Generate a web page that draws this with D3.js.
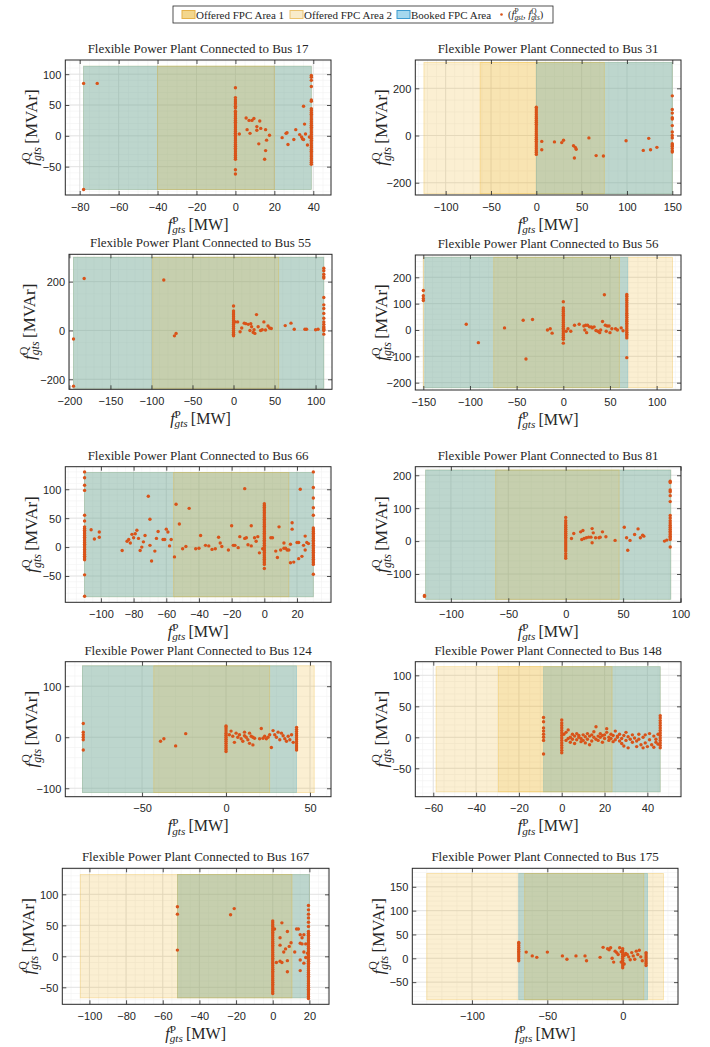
<!DOCTYPE html>
<html>
<head>
<meta charset="utf-8">
<script src="https://cdn.jsdelivr.net/npm/d3@7"></script>
<style>
  body { margin: 0; background: #fff; }
  svg { display: block; font-family: "Liberation Serif", "Times New Roman", serif; }
  .tick text { font-family: "Liberation Sans", Arial, sans-serif; font-size: 11px; fill: #262626; }
</style>
</head>
<body>
<svg id="chart" width="710" height="1047"></svg>
<script>
// ---------------- data
var buses = [17, 31, 55, 56, 66, 81, 124, 148, 167, 175];

var xLimits = [[-87.4, 49.1], [-133.5, 159.6], [-200.5, 120], [-158.6, 126.1], [-121.8, 40.8],
               [-131, 100.4], [-95.7, 62.5], [-68.4, 55.7], [-114.8, 30.7], [-139.6, 36.7]];
var yLimits = [[-96, 123], [-252, 320], [-241, 312], [-227.8, 284.7], [-95.5, 139],
               [-186, 226], [-116.5, 148], [-95.8, 122], [-77.4, 142], [-96.5, 188.8]];

var xTicks = [[-80, -60, -40, -20, 0, 20, 40], [-100, -50, 0, 50, 100, 150], [-200, -150, -100, -50, 0, 50, 100],
              [-150, -100, -50, 0, 50, 100], [-100, -80, -60, -40, -20, 0, 20], [-100, -50, 0, 50, 100],
              [-50, 0, 50], [-60, -40, -20, 0, 20, 40], [-100, -80, -60, -40, -20, 0, 20], [-100, -50, 0]];
var yTicks = [[-50, 0, 50, 100], [-200, 0, 200], [-200, 0, 200], [-200, -100, 0, 100, 200], [-50, 0, 50, 100],
              [-100, 0, 100, 200], [-100, 0, 100], [-50, 0, 50, 100], [-50, 0, 50, 100], [-50, 0, 50, 100, 150]];

// areas: [pMin, pMax, qMin, qMax]
var bookedArea = [[-78, 39, -87, 113], [0, 150, -247, 310], [-195, 110, -237, 300], [-148.5, 69, -219, 276],
                  [-110, 30, -86, 129], [-122, 91.5, -177, 216], [-85.5, 42, -108.5, 140], [-8.5, 46, -88, 114],
                  [-52, 20, -67, 132], [-69, 16.5, -87, 178]];
var offeredArea1 = [[-40, 20, -87, 113], [-62, 75, -247, 310], [-98.5, 55, -237, 300], [-74.5, 60, -219, 276],
                    [-55.5, 15, -86, 129], [-61, 46.5, -177, 216], [-43, 26, -108.5, 140], [-29.5, 23.5, -88, 114],
                    [-52, 10.5, -67, 132], [-65, 14, -87, 178]];
var offeredArea2 = [[-78, 39, -87, 113], [-124, 150, -247, 310], [-195, 110, -237, 300], [-150, 117, -219, 276],
                    [-110, 30, -86, 129], [-122, 91.5, -177, 216], [-85.5, 52.5, -108.5, 140], [-58.7, 46, -88, 114],
                    [-105, 20, -67, 132], [-130, 27, -87, 178]];

// columns of points that pile up at one active power value: [p, [q...]]
var bus17Cols = [
  [0, [-62, -55, -38, -35, -32, -29, -26, -23, -20, -17, -14, -11, -8, -5, -2, 1, 4, 7, 10, 13, 16, 19, 22, 25, 28, 31, 34, 37, 40, 45, 48, 52, 55, 58, 62, 78]],
  [39, [-46, -43, -40, -37, -34, -31, -28, -25, -22, -19, -16, -13, -10, -7, -4, -1, 2, 5, 8, 11, 14, 17, 20, 23, 26, 29, 32, 35, 38, 41, 44, 56, 58, 80, 90, 95, 98]]];
var bus31Cols = [
  [0, [-80, -72, -64, -56, -48, -40, -32, -24, -16, -8, 0, 8, 16, 24, 32, 40, 48, 56, 64, 72, 80, 88, 96, 104, 112, 120]],
  [150, [168, 110, 95, 75, 70, 42, 15, 0, -10, -35, -40, -45, -55, -65, -70]]];
var bus55Cols = [
  [0, [-22, -15, -8, 0, 8, 16, 24, 32, 40, 48, 56, 64, 72, 80, 100]],
  [110, [255, 245, 230, 220, 215, 135, 105, 90, 70, 50, 35, 25, 15, 10, 5, 0, -15]]];
var bus56Cols = [
  [-150, [150, 130, 120, 112]],
  [0, [-50, -35, -28, -21, -14, -7, 0, 7, 14, 21, 28, 35, 42, 49, 56, 63, 70, 77, 84, 107]],
  [68, [135, 128, 120, 112, 104, 96, 88, 80, 72, 64, 56, 48, 40, 33, 26, 19, 12, 5, -2, -9, -16, -23, -30, -105]]];
var bus66Cols = [
  [-110, [-85, -48, -22, -19, -16, -13, -10, -7, -4, -1, 2, 5, 8, 11, 14, 17, 20, 23, 26, 29, 32, 35, 45, 55, 98, 107, 120, 130]],
  [0, [-37, -30, -27, -24, -21, -18, -15, -12, -9, -6, -3, 0, 3, 6, 9, 12, 15, 18, 21, 24, 27, 30, 33, 36, 39, 42, 45, 48, 51, 54, 57, 60, 63, 66, 69, 72, 75]],
  [30, [-47, -30, -27, -24, -21, -18, -15, -12, -9, -6, -3, 0, 3, 6, 9, 12, 15, 18, 21, 24, 27, 30, 33, 55, 68, 85, 103, 130]]];
var bus81Cols = [
  [0, [-52, -45, -38, -30, -24, -18, -12, -6, 0, 6, 12, 18, 24, 30, 36, 42, 48, 55, 62, 72]],
  [91, [182, 178, 155, 150, 138, 120, 78, 70, 62, 55, 48, 42, 36, 30, 25, 20, 15, 10, 5, -18]]];
var bus124Cols = [
  [-85, [27, 10, 5, 0, -5, -25]],
  [0, [-28, -24, -20, -16, -12, -8, -4, 0, 4, 8, 12, 16, 20, 22]],
  [42, [-25, -21, -17, -13, -9, -5, -1, 3, 7, 11, 15, 19]]];
var bus148Cols = [
  [-8.5, [32, 25, 15, 10, 5, 0, -5, -27]],
  [0, [-25, -21, -17, -13, -9, -5, -1, 3, 7, 11, 15, 19, 23, 28]],
  [46, [-17, -13, -9, -5, -1, 3, 7, 11, 15, 19, 23, 27, 31, 35]]];
var bus167Cols = [
  [-52, [80, 68, 10]],
  [0, [-60, -57, -54, -51, -48, -45, -42, -39, -36, -33, -30, -27, -24, -21, -18, -15, -12, -9, -6, -3, 0, 3, 6, 9, 12, 15, 18, 21, 24, 27, 30, 33, 36, 39, 42, 45, 48, 51, 54, 57]],
  [19.5, [-68, -65, -62, -59, -56, -53, -50, -47, -44, -41, -38, -35, -32, -29, -26, -23, -20, -17, -14, -11, -8, -5, -2, 1, 4, 7, 10, 13, 16, 19, 22, 25, 28, 31, 34, 37, 40, 48, 55, 62, 68, 75, 82]]];
var bus175Cols = [
  [-69, [-5, -1, 3, 7, 11, 15, 19, 23, 27, 31, 33]],
  [0, [-20, -16, -12, -8, -4, 0, 4, 8, 12, 16, 20]],
  [15.5, [-15, -11, -7, -3, 1, 5, 9, 12]]];

// remaining single points [p, q]
var bus17Pts = [[-78, 85], [-71, 85], [-78, -87], [2, 3], [5.5, 29], [6, 10], [7, 25], [7.5, 4], [8.5, 25], [9.5, 28],
  [11, 15], [11, 9], [12, -13], [12.5, 24], [13, 12], [15, -38], [15.5, 10], [15.5, -24], [16, -7], [17.5, 1],
  [24, -3], [26, 4], [26.5, 5], [27, -14], [30, -6], [31, 10], [33, 2], [34, -2], [34.5, -5], [35, -6], [35, 48],
  [35.5, 19], [36, 3], [37, -15], [38, -2]];
var bus31Pts = [[6, -25], [6, -60], [20, -27], [28, -30], [30, -20], [41, -43], [42, -95], [43, -50], [44, -58],
  [58, -10], [66, -85], [74, -87], [99, -22], [118, -63], [124, -12], [126, -60], [133, -50]];
var bus55Pts = [[-195, -35], [-195, -228], [-182, 213], [-85, 207], [-72, -22], [-70, -12], [2, 35], [5, 35], [8, -5],
  [10, 10], [13, 30], [15, 28], [18, 25], [20, 0], [21, 28], [22, 15], [24, -8], [25, 3], [26, -12], [28, 65], [30, 15],
  [33, 0], [35, 3], [37, 35], [39, 2], [42, 18], [44, 10], [46, 8], [63, 20], [70, 30], [74, 5], [87, 5], [89, 5],
  [100, 3], [103, 5]];
var bus56Pts = [[-104, 22], [-91, -48], [-63, 8], [-43, 37], [-40, -110], [-33, 40], [-17, 0], [-14, 5], [-12, -12],
  [3, -5], [5, 5], [8, -5], [12, 18], [17, 22], [22, 15], [23, 0], [24, 18], [25, -10], [26, 18], [28, 12], [30, 12],
  [31, 8], [33, 12], [35, -2], [37, -5], [39, -10], [40, 0], [42, 32], [44, 134], [45, 18], [46, -5], [47, 15],
  [49, 15], [50, -10], [52, 5], [56, 5], [58, 0], [62, 8], [64, -3]];
var bus66Pts = [[-106, 30], [-104, 14], [-101, 26], [-101, 17], [-87, -6], [-84, 10], [-83, 13], [-82, 7], [-81, 22],
  [-80, 16], [-79, 23], [-78, 29], [-77, 15], [-76, -6], [-75, 0], [-74, 9], [-73, 20], [-71, 88], [-70, 48],
  [-70, 3], [-69, -24], [-67, -7], [-66, 15], [-65, 27], [-62, 13], [-61, 13], [-60, 31], [-59, 26], [-58, 2],
  [-57, 13], [-55, -17], [-54, 74], [-52, 40], [-50, -3], [-48, 1], [-46, 67], [-42, -3], [-40, -2], [-39, 20],
  [-36, 3], [-34, 2], [-32, -4], [-30, -3], [-28, 17], [-27, 7], [-26, 1], [-22, -5], [-20, 37], [-19, 3], [-18, 3],
  [-16, -1], [-15, 18], [-12, 101], [-12, 15], [-11, 16], [-10, 4], [-8, 37], [-8, 2], [-6, 16], [-5, 10], [-4, 18],
  [-3, -10], [-1, -3], [4, 16], [5, 16], [7, -7], [8, -18], [9, 35], [10, -5], [12, -2], [12, 7], [13, -2], [14, -5],
  [15, -5], [16, 5], [16, -27], [17, 42], [17, 31], [18, -26], [20, 8], [21, 8], [21, -20], [22, 100], [23, -16],
  [24, 3], [25, -5], [25, 19], [26, 8], [27, 6]];
var bus81Pts = [[-123, -165], [-123, -168], [5, 8], [7, 23], [13, 28], [14, 5], [15, 32], [16, 8], [18, 10], [20, 12],
  [22, 12], [23, 38], [23, -5], [24, 25], [26, 10], [29, 10], [30, 12], [32, 28], [35, 13], [43, 2], [51, 42],
  [53, 10], [54, -28], [56, 2], [60, 20], [63, 37], [65, 10], [67, 18], [68, 15], [86, 0], [88, 3]];
var bus124Pts = [[-39, -8], [-37, -3], [-30, -17], [-24, 7], [2, 5], [3, 12], [4, 2], [5, -10], [6, 8], [7, 0], [8, 5],
  [9, -3], [10, -8], [11, 10], [11, 3], [12, 0], [13, -5], [14, 8], [14, -12], [15, 2], [16, 0], [16, -15], [17, -2],
  [20, -3], [21, 17], [22, -2], [23, 2], [24, -3], [25, 0], [26, 5], [27, -20], [28, 13], [29, 5], [30, 0], [31, 10],
  [32, -5], [33, 8], [34, 3], [35, -3], [36, -8], [37, 2], [38, -5], [39, 5], [40, -10]];
var bus148Pts = [[1, 5], [2, -5], [2, 8], [3, -2], [3, 12], [4, 0], [4, -8], [5, 5], [5, -3], [6, 2], [6, -10], [7, -4],
  [7, 6], [8, 0], [8, 3], [9, -2], [9, -7], [10, 4], [10, -5], [11, 1], [11, -9], [12, 6], [12, -3], [13, -12], [13, 2],
  [14, 4], [14, -6], [15, 0], [15, 9], [16, -3], [16, 17], [17, 2], [17, -5], [18, 6], [18, 0], [19, -8], [19, 3],
  [20, 4], [20, -2], [21, 8], [21, 14], [22, 0], [22, -5], [23, 5], [23, -2], [24, 3], [24, -7], [25, 10], [25, -4],
  [26, 0], [26, 2], [27, -6], [27, 5], [28, -10], [28, -2], [29, 3], [29, -14], [30, 8], [30, -5], [31, -17], [31, 1],
  [32, -3], [33, 4], [33, -8], [34, -1], [35, -6], [35, -15], [36, 5], [36, -3], [37, -12], [38, 0], [38, -17],
  [39, 4], [39, -9], [40, -15], [41, 6], [41, -4], [42, -12], [43, -16], [43, 2], [44, -8], [44, -3], [45, 5], [45, -11]];
var bus167Pts = [[-23, 67], [-21, 77], [1, 44], [2, -10], [4, 30], [4, 18], [4, -8], [5, 54], [5, -10], [6, 7], [7, 12],
  [8, 40], [8, -25], [8, -7], [9, 16], [10, 22], [12, 7], [13, 44], [14, 44], [15, 35], [15, 21], [15, -6], [15, -23],
  [16, 20], [16, 30], [17, 35], [17, 7], [17, -11], [18, -2], [18, 20], [19, 5]];
var bus175Pts = [[-64, 13], [-60, 5], [-57, 2], [-50, 13], [-40, 5], [-37, -2], [-31, 5], [-25, 5], [-24, -5], [-15, 2],
  [-13, 23], [-10, 20], [-9, 18], [-8, 22], [-7, 0], [-6, -8], [-5, 15], [-4, 12], [-3, 8], [-2, 22], [-1, -8],
  [-1, 14], [1, -12], [1, 6], [2, 10], [3, 8], [4, 3], [5, -3], [6, 12], [7, 5], [8, -2], [9, 15], [10, 8], [11, 17],
  [12, 3], [13, -5]];

var colSets = [bus17Cols, bus31Cols, bus55Cols, bus56Cols, bus66Cols, bus81Cols, bus124Cols, bus148Cols, bus167Cols, bus175Cols];
var ptSets = [bus17Pts, bus31Pts, bus55Pts, bus56Pts, bus66Pts, bus81Pts, bus124Pts, bus148Pts, bus167Pts, bus175Pts];

// ---------------- layout (pixel boxes of the axes: left, top, right, bottom)
var boxes = [[65.3, 60, 331, 195], [415.3, 60, 681, 195], [69, 254.3, 332, 389.3], [415.3, 255, 681, 390],
             [65.3, 466.7, 331, 602.3], [415.3, 466.7, 681, 602.3], [65.3, 661.7, 331, 796.7], [415.3, 661.7, 681, 796.7],
             [62.3, 868.3, 329, 1004.3], [412.3, 868.3, 678, 1004.3]];

var orange = "#EDB120", blueFill = "rgb(74,169,197)", dotColor = "#D95319";

var svg = d3.select("#chart");

// f^{sup}_{sub} [unit] written with tspans
function mathLabel(text, sup, sub, unit, fs, supShift) {
  var up = fs * (supShift || 0.42), down = fs * 0.22;
  text.append("tspan").attr("font-style", "italic").text("f");
  var s = text.append("tspan").attr("font-size", fs * 0.7).attr("dy", -up).text(sup);
  var w = s.node().getComputedTextLength();
  text.append("tspan").attr("font-size", fs * 0.7).attr("font-style", "italic")
    .attr("dx", -w).attr("dy", up + down).text(sub);
  if (unit) text.append("tspan").attr("dy", -down).text("\u2009" + unit);
}

function minorStep(step) {
  if (step === 20) return 5;
  if (step === 50) return 10;
  if (step === 100) return 20;
  if (step === 200) return 50;
  return step / 5;
}

buses.forEach(function(bus, i) {
  var b = boxes[i];
  var w = b[2] - b[0], h = b[3] - b[1];
  var g = svg.append("g").attr("transform", "translate(" + b[0] + "," + b[1] + ")");

  var x = d3.scaleLinear().domain(xLimits[i]).range([0, w]);
  var y = d3.scaleLinear().domain(yLimits[i]).range([h, 0]);

  // minor grid
  var mx = minorStep(xTicks[i][1] - xTicks[i][0]);
  var my = minorStep(yTicks[i][1] - yTicks[i][0]);
  var minX = d3.range(Math.ceil(xLimits[i][0] / mx) * mx, xLimits[i][1], mx);
  var minY = d3.range(Math.ceil(yLimits[i][0] / my) * my, yLimits[i][1], my);
  g.selectAll(".mgx").data(minX).enter().append("line")
    .attr("x1", d => x(d)).attr("x2", d => x(d)).attr("y1", 0).attr("y2", h)
    .attr("stroke", "#f1f1f1").attr("stroke-width", 0.6);
  g.selectAll(".mgy").data(minY).enter().append("line")
    .attr("y1", d => y(d)).attr("y2", d => y(d)).attr("x1", 0).attr("x2", w)
    .attr("stroke", "#f1f1f1").attr("stroke-width", 0.6);
  // major grid
  g.selectAll(".gx").data(xTicks[i]).enter().append("line")
    .attr("x1", d => x(d)).attr("x2", d => x(d)).attr("y1", 0).attr("y2", h)
    .attr("stroke", "#dedede").attr("stroke-width", 0.8);
  g.selectAll(".gy").data(yTicks[i]).enter().append("line")
    .attr("y1", d => y(d)).attr("y2", d => y(d)).attr("x1", 0).attr("x2", w)
    .attr("stroke", "#dedede").attr("stroke-width", 0.8);

  // areas: offered 2 underneath, booked, then offered 1 on top
  function area(r, fill, op, stroke) {
    g.append("rect")
      .attr("x", x(r[0])).attr("width", x(r[1]) - x(r[0]))
      .attr("y", y(r[3])).attr("height", y(r[2]) - y(r[3]))
      .attr("fill", fill).attr("fill-opacity", op)
      .attr("stroke", stroke).attr("stroke-opacity", 0.35).attr("stroke-width", 0.8);
  }
  area(offeredArea2[i], orange, 0.2, orange);
  area(bookedArea[i], blueFill, 0.35, blueFill);
  area(offeredArea1[i], orange, 0.18, orange);

  // points
  var pts = ptSets[i].slice();
  colSets[i].forEach(function(c) {
    c[1].forEach(function(q) { pts.push([c[0], q]); });
  });
  g.selectAll(".pt").data(pts).enter().append("circle")
    .attr("cx", d => x(d[0])).attr("cy", d => y(d[1]))
    .attr("r", 1.7).attr("fill", dotColor);

  // axes with inward ticks on all four sides
  var xa = g.append("g").attr("transform", "translate(0," + h + ")")
    .call(d3.axisBottom(x).tickValues(xTicks[i]).tickSize(-4).tickPadding(8));
  var xt = g.append("g").call(d3.axisTop(x).tickValues(xTicks[i]).tickSize(-4).tickFormat(""));
  var ya = g.append("g").call(d3.axisLeft(y).tickValues(yTicks[i]).tickSize(-4).tickPadding(4));
  var yr = g.append("g").attr("transform", "translate(" + w + ",0)")
    .call(d3.axisRight(y).tickValues(yTicks[i]).tickSize(-4).tickFormat(""));
  [xa, xt, ya, yr].forEach(function(a) {
    a.select(".domain").remove();
    a.selectAll(".tick line").attr("stroke", "#262626").attr("stroke-width", 0.8);
  });
  ya.selectAll(".tick text").attr("dy", "0.35em");

  g.append("rect").attr("width", w).attr("height", h)
    .attr("fill", "none").attr("stroke", "#262626").attr("stroke-width", 1);

  // title
  g.append("text").attr("x", w / 2).attr("y", -7)
    .attr("text-anchor", "middle").attr("font-size", 13).attr("fill", "#262626")
    .text("Flexible Power Plant Connected to Bus " + bus);

  // x label
  var xl = g.append("text").attr("x", w / 2).attr("y", h + 34.5)
    .attr("text-anchor", "middle").attr("font-size", 16).attr("fill", "#262626");
  mathLabel(xl, "P", "gts", "[MW]", 16, 0.34);

  // y label
  var ylx = (i === 2 ? 35 : b[0] - 28) - b[0];
  var yl = g.append("text").attr("transform", "translate(" + ylx + "," + (h / 2) + ") rotate(-90)")
    .attr("text-anchor", "middle").attr("font-size", 17).attr("fill", "#262626");
  mathLabel(yl, "Q", "gts", "[MVAr]", 17);
});

// ---------------- legend
var leg = svg.append("g");
leg.append("rect").attr("x", 173).attr("y", 6).attr("width", 380).attr("height", 17)
  .attr("fill", "#fff").attr("stroke", "#262626").attr("stroke-width", 0.8);
var legendItems = [
  {x: 182, fill: "#f3d68c", stroke: "#e6b24a", label: "Offered FPC Area 1"},
  {x: 290, fill: "#f8ebcb", stroke: "#ebc370", label: "Offered FPC Area 2"},
  {x: 397, fill: "#a5d8ee", stroke: "#3d9bd0", label: "Booked FPC Area"}
];
legendItems.forEach(function(it) {
  leg.append("rect").attr("x", it.x).attr("y", 10.5).attr("width", 13).attr("height", 8)
    .attr("fill", it.fill).attr("stroke", it.stroke).attr("stroke-width", 1);
  leg.append("text").attr("x", it.x + 14).attr("y", 18.5).attr("font-size", 11).attr("fill", "#262626")
    .text(it.label);
});
leg.append("circle").attr("cx", 501.5).attr("cy", 14.5).attr("r", 1.3).attr("fill", dotColor);
var lt = leg.append("text").attr("x", 508).attr("y", 18).attr("font-size", 10.5).attr("fill", "#262626");
lt.append("tspan").text("(");
mathLabel(lt, "P", "gst", "", 10.5);
lt.append("tspan").attr("dy", -10.5 * 0.22).text(", ");
mathLabel(lt, "Q", "gts", "", 10.5);
lt.append("tspan").attr("dy", -10.5 * 0.22).text(")");
</script>
</body>
</html>
